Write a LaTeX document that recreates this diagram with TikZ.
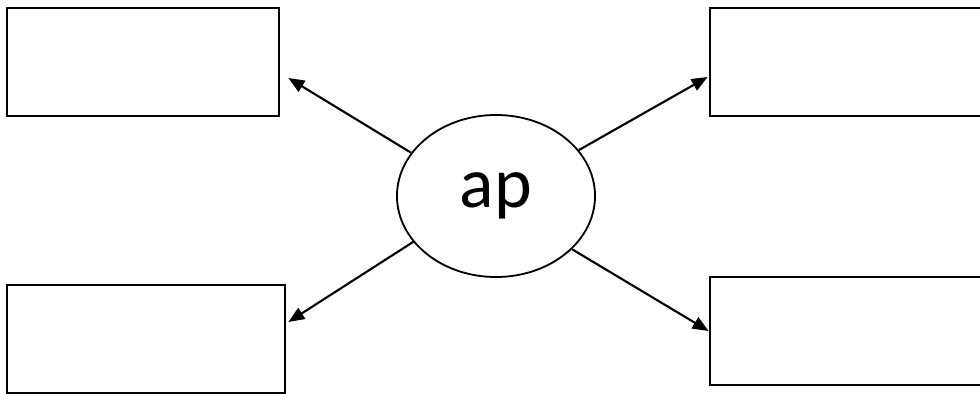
\documentclass[tikz,border=0pt]{standalone}
\usepackage{fontspec}
\setmainfont{Carlito}
\usetikzlibrary{arrows.meta,shapes.geometric}

\begin{document}
\begin{tikzpicture}[x=0.025cm,y=-0.025cm,
    box/.style={draw,line width=1.9pt,minimum height=2.7cm,inner sep=0pt},
    arr/.style={-{Triangle[length=0.4cm,width=0.32cm]},line width=1.5pt}]
    \useasboundingbox (0,0) rectangle (980,394);
    \clip (0,0) rectangle (980,394);
    \node [box,minimum width=6.8cm] (tl) at (143,62) {};
    \node [box,minimum width=6.95cm] (bl) at (146,339) {};
    \node [box,minimum width=6.9cm] (tr) at (848,62) {};
    \node [box,minimum width=6.9cm] (br) at (848,331) {};
    \node [ellipse,draw,line width=1.3pt,minimum width=4.95cm,minimum height=4.05cm,inner sep=0pt] (ap) at (496,196) {\fontsize{51}{60}\selectfont ap};
    \draw[arr] (ap.153) -- ([shift={(8,16)}]tl.east);
    \draw[arr] (ap.29) -- ([shift={(-1,15)}]tr.west);
    \draw[arr] (ap.209) -- ([shift={(2,-17)}]bl.east);
    \draw[arr] (ap.325) -- (br.west);
\end{tikzpicture}
\end{document}
